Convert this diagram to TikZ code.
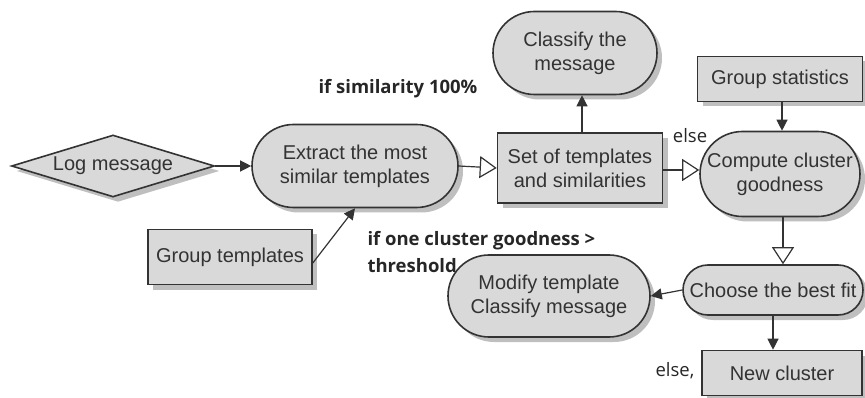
\documentclass[tikz,border=0pt]{standalone}
\usepackage{fontspec}
\setmainfont{Liberation Sans}
\newfontfamily\lblfont{Open Sans}
\usetikzlibrary{shapes.geometric, shapes.misc, shadows, arrows.meta}

\begin{document}
\begin{tikzpicture}[x=1pt, y=-1pt,
        box/.style={draw=black!80, line width=1.6pt, fill=black!15, align=center, inner sep=0pt,
            font=\fontsize{20}{24}\selectfont, text=black!80,
            drop shadow={shadow xshift=5pt, shadow yshift=-5pt, fill=black!25, opacity=1}},
        stadium/.style={box, rounded rectangle},
        pole/.style={draw=black!80, line width=1.2pt, -{Triangle[width=11pt, length=11pt]}},
        opentip/.style={draw=black!80, line width=1.2pt, -{Triangle[open, fill=white, width=22pt, length=17pt, line width=1.2pt]}},
        lbl/.style={font=\lblfont\fontsize{18.5}{27}\selectfont, text=black!85}]
        % Okraje obrazku
        \useasboundingbox (0,0) rectangle (865,398);

        % Vstupy
        \node[box, diamond, aspect=3.3, minimum width=203pt, minimum height=62pt] (logmsg) at (113,166) {Log message};
        \node[box, rectangle, minimum width=164pt, minimum height=55pt] (grouptpl) at (230,257) {Group templates};
        \node[box, rectangle, minimum width=165pt, minimum height=45pt] (groupstat) at (780,79) {Group statistics};

        % Kroky zpracovani
        \node[stadium, minimum width=206pt, minimum height=83pt] (extract) at (355,166) {Extract the most\\similar templates};
        \node[box, rectangle, minimum width=165pt, minimum height=70pt] (setsim) at (580,168) {Set of templates\\and similarities};
        \node[stadium, minimum width=164pt, minimum height=83pt] (classify) at (575,53) {Classify the\\message};
        \node[stadium, minimum width=160pt, minimum height=85pt] (compute) at (780,174) {Compute cluster\\goodness};
        \node[stadium, minimum width=180pt, minimum height=50pt] (choose) at (773,290) {Choose the best fit};
        \node[stadium, minimum width=202pt, minimum height=82pt] (modify) at (549,296) {Modify template\\Classify message};
        \node[box, rectangle, minimum width=160pt, minimum height=45pt] (newcls) at (782,373) {New cluster};

        % Spojnice
        \draw[pole] (logmsg.east) -- (extract.west);
        \draw[pole] ([yshift=-6pt]grouptpl.east) -- (extract.south);
        \draw[opentip] (extract.east) -- (setsim.west);
        \draw[pole] ([xshift=2pt]setsim.north) -- ([xshift=2pt]setsim.north |- classify.south);
        \draw[opentip] (setsim.east |- 0,170) -- (compute.west |- 0,170);
        \draw[pole] ([xshift=2pt]groupstat.south) -- ([xshift=2pt]groupstat.south |- compute.north);
        \draw[opentip] ([xshift=3pt]compute.south) -- ([xshift=3pt]compute.south |- choose.north);
        \draw[pole] (choose.west) -- (modify.east);
        \draw[pole] (choose.south) -- (choose.south |- newcls.north);

        % Podminky
        \node[lbl, font=\lblfont\bfseries\fontsize{18.5}{27}\selectfont] (simlbl) at (398,89) {if similarity 100\%};
        \node[lbl] (elselbl) at (690,136) {else};
        \node[lbl, font=\lblfont\bfseries\fontsize{18.5}{27}\selectfont, align=left, anchor=north west] (goodlbl) at (364,228) {if one cluster goodness >\\threshold};
        \node[lbl] (elsenew) at (675,371) {else,};
    \end{tikzpicture}
\end{document}
